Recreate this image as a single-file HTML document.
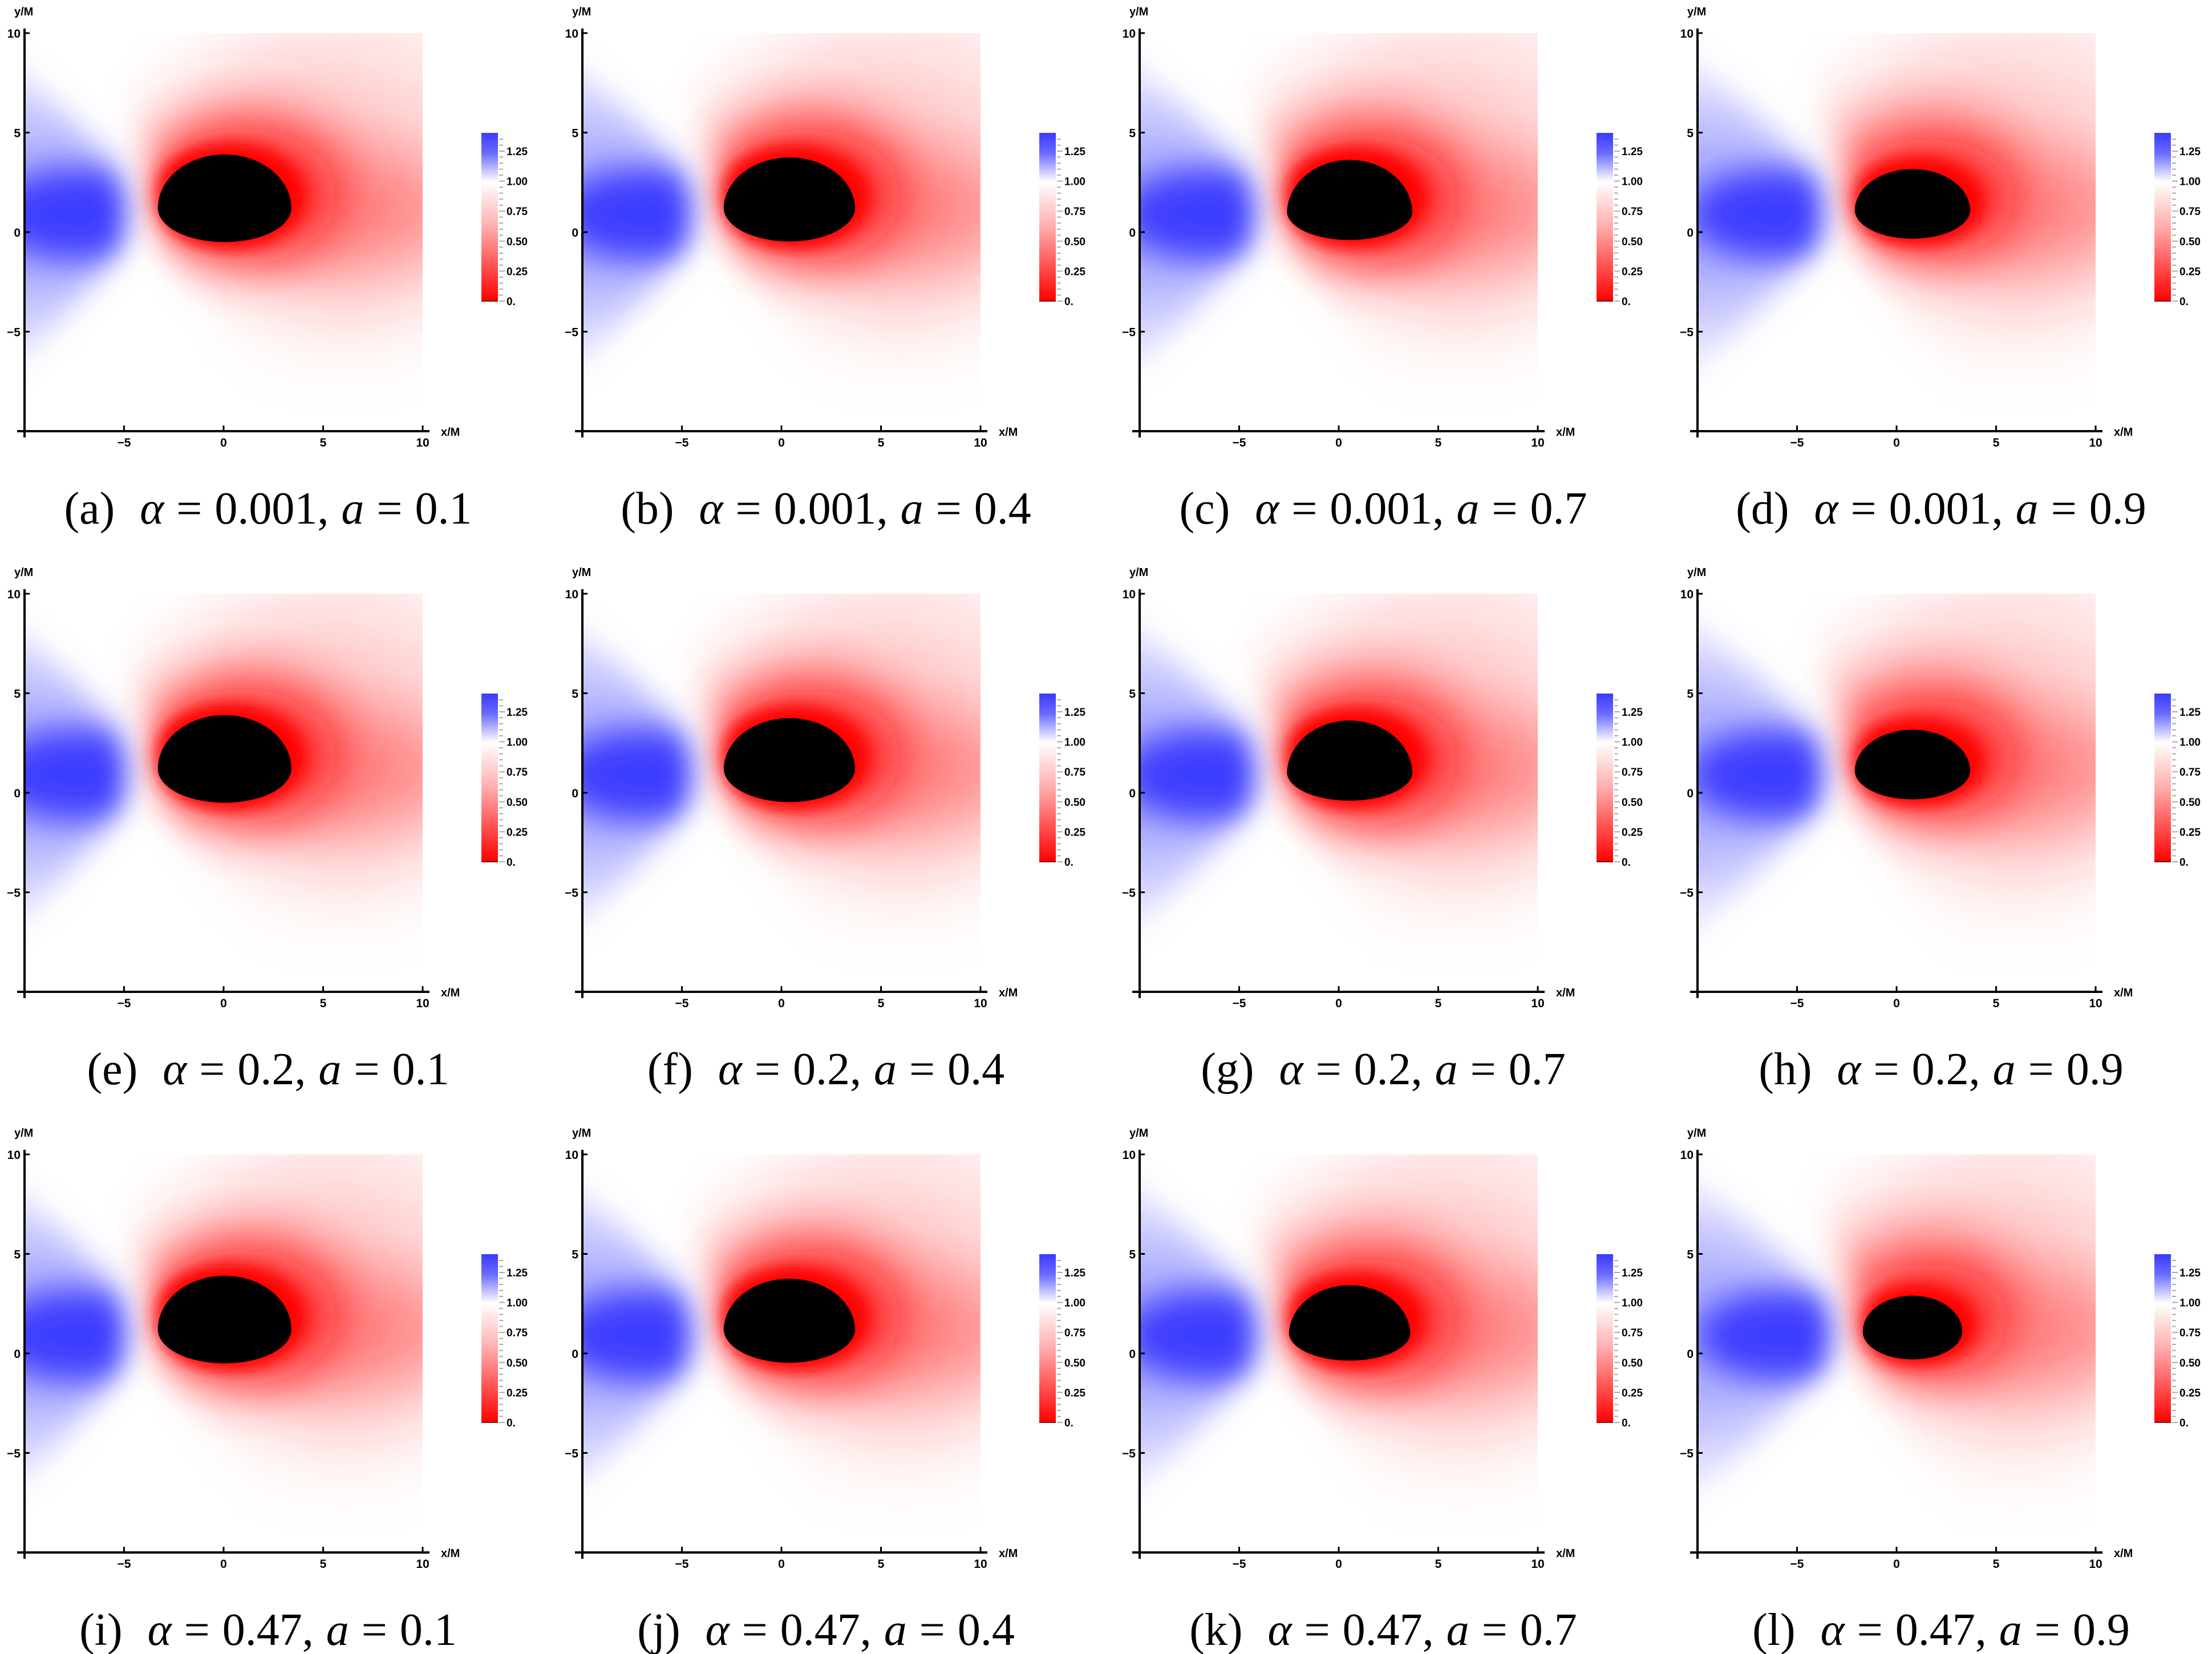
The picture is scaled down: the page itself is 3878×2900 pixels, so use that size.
<!DOCTYPE html>
<html><head><meta charset="utf-8">
<style>
html,body{margin:0;padding:0;background:#fff;}
svg{display:block;}
.t{font-family:"Liberation Sans",Arial,sans-serif;font-weight:bold;fill:#000;}
.c{font-family:"Liberation Serif","DejaVu Serif",serif;fill:#000;}
</style></head>
<body>
<svg id="s" width="3878" height="2900" viewBox="0 0 3878 2900" xmlns="http://www.w3.org/2000/svg">
<defs>
<filter id="b80" x="-100%" y="-100%" width="300%" height="300%"><feGaussianBlur stdDeviation="80"/></filter>
<filter id="b60" x="-100%" y="-100%" width="300%" height="300%"><feGaussianBlur stdDeviation="60"/></filter>
<filter id="b45" x="-100%" y="-100%" width="300%" height="300%"><feGaussianBlur stdDeviation="45"/></filter>
<filter id="b30" x="-100%" y="-100%" width="300%" height="300%"><feGaussianBlur stdDeviation="30"/></filter>
<filter id="b25" x="-100%" y="-100%" width="300%" height="300%"><feGaussianBlur stdDeviation="25"/></filter>
<filter id="b14" x="-100%" y="-100%" width="300%" height="300%"><feGaussianBlur stdDeviation="14"/></filter>
<linearGradient id="cb" x1="0" y1="0" x2="0" y2="1">
<stop offset="0" stop-color="#3a3aff"/>
<stop offset="0.12" stop-color="#6a6aff"/>
<stop offset="0.29" stop-color="#ffffff"/>
<stop offset="0.55" stop-color="#ffb0b0"/>
<stop offset="1" stop-color="#ff0000"/>
</linearGradient>
</defs>
</svg>
<script>
(function(){
var s=document.getElementById('s');
var out='';
var caps=[['a','0.001','0.1'],['b','0.001','0.4'],['c','0.001','0.7'],['d','0.001','0.9'],
['e','0.2','0.1'],['f','0.2','0.4'],['g','0.2','0.7'],['h','0.2','0.9'],
['i','0.47','0.1'],['j','0.47','0.4'],['k','0.47','0.7'],['l','0.47','0.9']];
var hp=[[-3.3,3.4,3.9,-0.5,1.2],[-2.9,3.7,3.8,-0.5,1.2],[-2.6,3.7,3.7,-0.43,1.0],[-2.1,3.7,3.2,-0.35,1.1]];
for(var r=0;r<3;r++)for(var c=0;c<4;c++){
 var ox=Math.round(c*977.5), oy=r*983;
 var X=function(x){return (ox+392+34.9*x).toFixed(1)}, Y=function(y){return (oy+407-34.9*y).toFixed(1)};
 var P=function(x,y){return X(x)+' '+Y(y)};
 var p=hp[c].slice(); if(r==2&&c==3){p=[-1.7,3.3,2.9,-0.3,1.1];} if(r==2&&c==2){p=[-2.5,3.6,3.5,-0.4,1.0];}
 var L=p[0],R=p[1],T=p[2],B=p[3],W=p[4];
 var u=34.9;
 var id=''+r+c;
 var gx=L-1.1;
 out+='<clipPath id="cl'+id+'"><rect x="'+X(-10)+'" y="'+Y(10)+'" width="698" height="698"/></clipPath>';
 out+='<mask id="mr'+id+'" maskUnits="userSpaceOnUse" x="'+(ox-300)+'" y="'+(oy-300)+'" width="1500" height="1400"><path d="M'+P(gx+0.4,1)+' L'+P(gx+0.2,3.5)+' L'+P(gx-3.5,13)+' L'+P(16,13)+' L'+P(16,-13)+' L'+P(gx+8,-13)+' L'+P(gx+0.7,-0.8)+'Z" fill="#fff" filter="url(#b30)"/></mask>';
 out+='<mask id="mb'+id+'" maskUnits="userSpaceOnUse" x="'+(ox-300)+'" y="'+(oy-300)+'" width="1500" height="1400"><path d="M'+P(gx-0.45,1)+' L'+P(gx-0.7,3.5)+' L'+P(-15,13)+' L'+P(-15,-12)+' L'+P(gx-0.7,-1.3)+'Z" fill="#fff" filter="url(#b25)"/></mask>';
 out+='<g clip-path="url(#cl'+id+')"><rect x="'+X(-10)+'" y="'+Y(10)+'" width="698" height="698" fill="#fff"/>';
 out+='<g mask="url(#mr'+id+')">';
 out+='<ellipse cx="'+X(6)+'" cy="'+Y(3)+'" rx="'+(8*u)+'" ry="'+(8*u)+'" fill="#ff5050" opacity="0.22" filter="url(#b80)"/>';
 out+='<ellipse cx="'+X(6)+'" cy="'+Y(1.2)+'" rx="'+(6*u)+'" ry="'+(3.2*u)+'" fill="#ff3030" opacity="0.5" filter="url(#b60)"/>';
 out+='<ellipse cx="'+X(1)+'" cy="'+Y(3.5)+'" rx="'+(5*u)+'" ry="'+(3*u)+'" fill="#ff3030" opacity="0.5" filter="url(#b60)"/>';
 out+='<ellipse cx="'+X((L+R)/2+0.8)+'" cy="'+Y(W+0.6)+'" rx="'+(((R-L)/2+1.5)*u)+'" ry="'+((T-B)/2+1.2)*u+'" fill="#ff1010" opacity="0.75" filter="url(#b45)"/>';
 out+='<ellipse cx="'+X((L+R)/2+0.2)+'" cy="'+Y((T+B)/2+0.1)+'" rx="'+(((R-L)/2+0.5)*u)+'" ry="'+((T-B)/2+0.45)*u+'" fill="#ff0000" filter="url(#b14)"/>';
 out+='</g>';
 out+='<g mask="url(#mb'+id+')">';
 out+='<ellipse cx="'+X(-10)+'" cy="'+Y(1)+'" rx="'+(7*u)+'" ry="'+(8*u)+'" fill="#9090ff" opacity="0.3" filter="url(#b80)"/>';
 out+='<ellipse cx="'+X(-10)+'" cy="'+Y(1)+'" rx="'+(6*u)+'" ry="'+(5*u)+'" fill="#7070ff" opacity="0.45" filter="url(#b60)"/>';
 out+='<ellipse cx="'+X(gx-2.8)+'" cy="'+Y(0.9)+'" rx="'+(4.5*u)+'" ry="'+(2.3*u)+'" fill="#3c3cff" filter="url(#b30)"/>';
 out+='</g>';
 var rx=(R-L)/2*u, ryt=(T-W)*u, ryb=(W-B)*u;
 out+='<path d="M'+X(L)+' '+Y(W)+' A'+rx+' '+ryt+' 0 0 1 '+X(R)+' '+Y(W)+' A'+rx+' '+ryb+' 0 0 1 '+X(L)+' '+Y(W)+'Z" fill="#000"/>';
 out+='</g>';
 out+='<line x1="'+X(-10)+'" y1="'+(oy+50)+'" x2="'+X(-10)+'" y2="'+(oy+767)+'" stroke="#000" stroke-width="4"/>';
 out+='<line x1="'+(ox+30)+'" y1="'+Y(-10)+'" x2="'+(ox+753)+'" y2="'+Y(-10)+'" stroke="#000" stroke-width="4"/>';
 [-5,0,5,10].forEach(function(v){
  out+='<line x1="'+X(v)+'" y1="'+(oy+746)+'" x2="'+X(v)+'" y2="'+(oy+755)+'" stroke="#000" stroke-width="3"/>';
  out+='<text class="t" x="'+X(v)+'" y="'+(oy+783)+'" font-size="21" text-anchor="middle">'+(v<0?'\u2212'+(-v):v)+'</text>';
  out+='<line x1="'+X(-10)+'" y1="'+Y(v)+'" x2="'+(ox+52)+'" y2="'+Y(v)+'" stroke="#000" stroke-width="3"/>';
  out+='<text class="t" x="'+(ox+36)+'" y="'+(+Y(v)+8)+'" font-size="21" text-anchor="end">'+(v<0?'\u2212'+(-v):v)+'</text>';
 });
 out+='<text class="t" x="'+(ox+25)+'" y="'+(oy+27)+'" font-size="20">y/M</text>';
 out+='<text class="t" x="'+(ox+773)+'" y="'+(oy+764)+'" font-size="20">x/M</text>';
 var cx=ox+844, cy=oy+233;
 out+='<rect x="'+cx+'" y="'+cy+'" width="29" height="295" fill="url(#cb)"/>';
 out+='<line x1="'+cx+'" y1="'+(cy+295)+'" x2="'+(cx+29)+'" y2="'+(cy+295)+'" stroke="#400" stroke-width="1.5"/>';
 for(var k=0;k<=27;k++){var yy=cy+295-k*10.52; if(yy<cy)break; var mj=(k%5==0);
  out+='<line x1="'+(cx+31)+'" y1="'+yy.toFixed(1)+'" x2="'+(cx+(mj?41:38))+'" y2="'+yy.toFixed(1)+'" stroke="#aaa" stroke-width="2"/>';}
 ['0.','0.25','0.50','0.75','1.00','1.25'].forEach(function(l,i){
  out+='<text class="t" x="'+(ox+888)+'" y="'+(cy+295-i*52.6+7)+'" font-size="19">'+l+'</text>';});
 var cp=caps[r*4+c];
 out+='<text class="c" x="'+(ox+470)+'" y="'+(oy+918)+'" font-size="80" text-anchor="middle" xml:space="preserve" word-spacing="2">('+cp[0]+')  <tspan font-style="italic">\u03b1</tspan> = '+cp[1]+', <tspan font-style="italic">a</tspan> = '+cp[2]+'</text>';
}
s.insertAdjacentHTML('beforeend',out);
})();
</script>
</body></html>
